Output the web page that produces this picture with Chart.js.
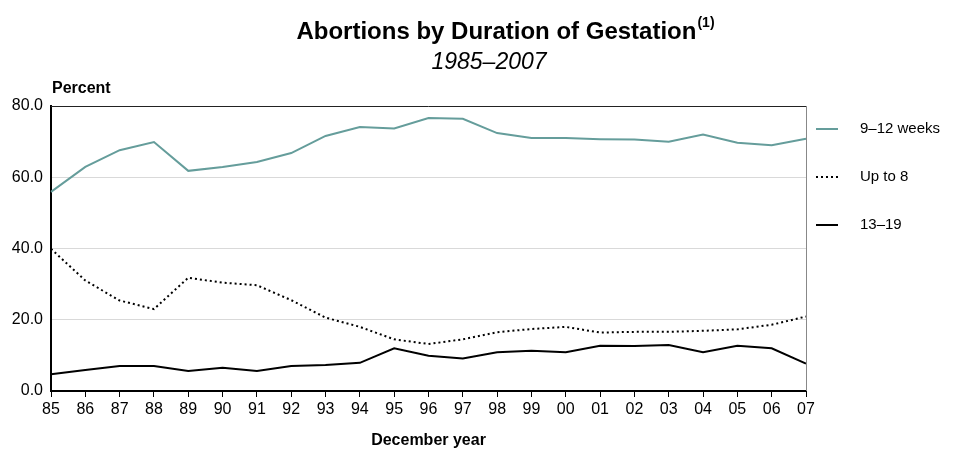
<!DOCTYPE html>
<html>
<head>
<meta charset="utf-8">
<script src="https://cdn.jsdelivr.net/npm/chart.js@4.4.1/dist/chart.umd.min.js"></script>
<style>
  html, body { margin: 0; padding: 0; background: #fff; }
  #wrap { width: 953px; height: 452px; position: relative; }
</style>
</head>
<body>
<div id="wrap"><canvas id="gestChart"></canvas></div>
<script>
// Data (percent of abortions)
var years = ['85', '86', '87', '88', '89', '90', '91', '92', '93', '94', '95', '96',
             '97', '98', '99', '00', '01', '02', '03', '04', '05', '06', '07'];
var weeks9to12 = [55.9, 62.9, 67.6, 69.9, 61.8, 62.9, 64.3, 66.8, 71.6, 74.1, 73.7, 76.6,
                  76.4, 72.4, 71.0, 71.0, 70.7, 70.6, 70.0, 72.0, 69.7, 69.0, 70.8];
var upTo8 = [39.9, 31.0, 25.4, 23.0, 31.8, 30.4, 29.7, 25.5, 20.6, 18.0, 14.5, 13.2,
             14.5, 16.5, 17.4, 18.0, 16.4, 16.6, 16.6, 16.9, 17.3, 18.6, 20.9];
var weeks13to19 = [4.7, 5.9, 7.0, 7.0, 5.6, 6.5, 5.6, 7.0, 7.3, 7.9, 12.0, 9.9,
                   9.1, 10.9, 11.3, 10.9, 12.7, 12.6, 12.9, 10.9, 12.7, 12.0, 7.7];
var yTicks = [0, 20, 40, 60, 80];

var font = '"Liberation Sans", Arial, sans-serif';

// titles, "Percent" label, frame and legend drawn on the canvas
var extras = {
    id: 'extras',
    afterDraw: function (chart) {
        var c = chart.ctx;
        var a = chart.chartArea;
        c.save();

        // top and right frame lines
        c.lineWidth = 1;
        c.strokeStyle = '#222';
        c.beginPath();
        c.moveTo(a.left, a.top + 0.5);
        c.lineTo(a.right, a.top + 0.5);
        c.stroke();
        c.strokeStyle = '#888';
        c.beginPath();
        c.moveTo(a.right + 0.5, a.top);
        c.lineTo(a.right + 0.5, a.bottom);
        c.stroke();

        // main title with superscript
        c.fillStyle = '#000';
        c.textBaseline = 'alphabetic';
        c.font = 'bold 24px ' + font;
        var t = 'Abortions by Duration of Gestation';
        var tw = c.measureText(t).width;
        c.font = 'bold 14px ' + font;
        var sw = c.measureText('(1)').width;
        var tx = 505 - (tw + sw) / 2;
        c.font = 'bold 24px ' + font;
        c.textAlign = 'left';
        c.fillText(t, tx, 39);
        c.font = 'bold 14px ' + font;
        c.fillText('(1)', tx + tw + 1, 27);

        // subtitle
        c.font = 'italic 23px ' + font;
        c.textAlign = 'center';
        c.fillText('1985\u20132007', 489, 69);

        // y axis caption
        c.font = 'bold 16px ' + font;
        c.textAlign = 'left';
        c.fillText('Percent', 52, 93);

        // legend
        var rows = [129, 177, 225];
        c.font = '15px ' + font;
        chart.data.datasets.forEach(function (ds, i) {
            var y = rows[i];
            c.strokeStyle = ds.borderColor;
            c.lineWidth = ds.borderWidth;
            c.setLineDash(ds.borderDash || []);
            c.beginPath();
            c.moveTo(816, y);
            c.lineTo(838, y);
            c.stroke();
            c.setLineDash([]);
            c.fillStyle = '#000';
            c.textBaseline = 'middle';
            c.fillText(ds.label, 860, y);
        });
        c.restore();
    }
};

var ctx = document.getElementById('gestChart').getContext('2d');
var gestChart = new Chart(ctx, {
    type: 'line',
    data: {
        labels: years,
        datasets: [{
            label: '9\u201312 weeks',
            data: weeks9to12,
            borderColor: '#659d9b',
            borderWidth: 2,
            pointRadius: 0,
            tension: 0,
            fill: false
        }, {
            label: 'Up to 8',
            data: upTo8,
            borderColor: '#000',
            borderWidth: 2,
            borderDash: [2, 3],
            pointRadius: 0,
            tension: 0,
            fill: false
        }, {
            label: '13\u201319',
            data: weeks13to19,
            borderColor: '#000',
            borderWidth: 2,
            pointRadius: 0,
            tension: 0,
            fill: false
        }]
    },
    options: {
        responsive: true,
        maintainAspectRatio: false,
        animation: false,
        layout: { padding: { top: 106, right: 147, bottom: 0, left: 0 } },
        plugins: {
            legend: { display: false },
            tooltip: { enabled: false }
        },
        scales: {
            x: {
                offset: false,
                afterFit: function (s) { s.height = 61; },
                grid: { drawOnChartArea: false, drawTicks: true, tickLength: 6, color: '#000' },
                border: { color: '#000', width: 2 },
                ticks: { color: '#000', font: { family: font, size: 16 }, padding: 3, maxRotation: 0, autoSkip: false },
                title: {
                    display: true,
                    text: 'December year',
                    color: '#000',
                    font: { family: font, size: 16, weight: 'bold' },
                    padding: { top: 0, bottom: 2 }
                }
            },
            y: {
                min: 0,
                max: 80,
                afterFit: function (s) { s.width = 51; },
                afterBuildTicks: function (s) {
                    s.ticks = yTicks.map(function (v) { return { value: v }; });
                },
                grid: { color: '#d9d9d9', drawTicks: false, lineWidth: 1 },
                border: { color: '#000', width: 2 },
                ticks: {
                    color: '#000',
                    font: { family: font, size: 16 },
                    padding: 8,
                    callback: function (v) { return v.toFixed(1); }
                }
            }
        }
    },
    plugins: [extras]
});
</script>
</body>
</html>
